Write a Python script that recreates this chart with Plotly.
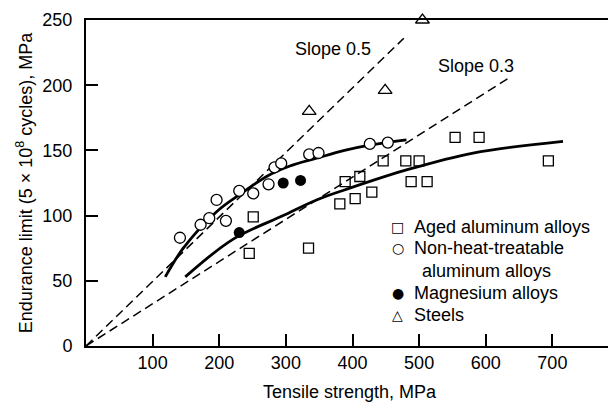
import plotly.graph_objects as go

# data (MPa)
aged_x = [245, 251, 334, 381, 389, 404, 411, 429, 446, 480, 500, 488, 512, 554, 590, 694]
aged_y = [71, 99, 75, 109, 126, 113, 130, 118, 142, 142, 142, 126, 126, 160, 160, 142]

nonheat_x = [141, 172, 185, 196, 210, 230, 251, 274, 283, 293, 335, 349, 426, 453]
nonheat_y = [83, 93, 98, 112, 96, 119, 117, 124, 137, 140, 147, 148, 155, 156]

mg_x = [230, 296, 322]
mg_y = [87, 125, 127]

steel_x = [335, 449, 505]
steel_y = [180, 196, 250]

# fitted trend curves
upper_x = [119, 146, 196, 236, 271, 306, 346, 388, 426, 481]
upper_y = [53, 75, 103, 118, 130, 138, 144, 150, 154, 158]
lower_x = [149, 221, 296, 346, 390, 481, 581, 716]
lower_y = [53, 82, 100, 112, 120, 135, 148, 157]

# slope reference lines (start, end)
slope05_x = [0, 477]
slope05_y = [0, 236]
slope03_x = [0, 636]
slope03_y = [0, 206]

FONT = "Liberation Sans, Arial, Helvetica, sans-serif"

fig = go.Figure()

for xs, ys in [(slope05_x, slope05_y), (slope03_x, slope03_y)]:
    fig.add_trace(go.Scatter(x=xs, y=ys, mode="lines",
                             line=dict(color="black", width=1.5, dash="9px,5px"),
                             showlegend=False, hoverinfo="skip"))

for xs, ys in [(upper_x, upper_y), (lower_x, lower_y)]:
    fig.add_trace(go.Scatter(x=xs, y=ys, mode="lines",
                             line=dict(color="black", width=2.8, shape="spline", smoothing=1.0),
                             showlegend=False, hoverinfo="skip"))

fig.add_trace(go.Scatter(x=aged_x, y=aged_y, mode="markers", name="Aged aluminum alloys",
                         marker=dict(symbol="square-open", size=10, color="black",
                                     line=dict(width=1.3)),
                         showlegend=False, cliponaxis=False))
fig.add_trace(go.Scatter(x=nonheat_x, y=nonheat_y, mode="markers",
                         name="Non-heat-treatable aluminum alloys",
                         marker=dict(symbol="circle", size=11, color="white",
                                     line=dict(width=1.3, color="black")),
                         showlegend=False, cliponaxis=False))
fig.add_trace(go.Scatter(x=mg_x, y=mg_y, mode="markers", name="Magnesium alloys",
                         marker=dict(symbol="circle", size=11, color="black"),
                         showlegend=False, cliponaxis=False))
fig.add_trace(go.Scatter(x=steel_x, y=steel_y, mode="markers", name="Steels",
                         marker=dict(symbol="triangle-up", size=12, color="white",
                                     line=dict(width=1.3, color="black")),
                         showlegend=False, cliponaxis=False))

annotations = [
    dict(x=370, y=228, text="Slope 0.5"),
    dict(x=585, y=215, text="Slope 0.3"),
]
for a in annotations:
    a.update(xref="x", yref="y", showarrow=False, font=dict(family=FONT, size=18, color="black"))

# legend written as text, like the original figure
legend_rows = [
    ("\u25A1", "Aged aluminum alloys", 91.0, 489),
    ("\u25CB", "Non-heat-treatable", 75.2, 489),
    ("", "aluminum alloys", 57.3, 502),
    ("\u25CF", "Magnesium alloys", 40.7, 489),
    ("\u25B3", "Steels", 24.1, 489),
]
for sym, txt, yy, xx in legend_rows:
    if sym:
        annotations.append(dict(x=468, y=yy, text=sym, xref="x", yref="y", showarrow=False,
                                font=dict(family="DejaVu Sans", size=14, color="black")))
    annotations.append(dict(x=xx, y=yy, text=txt, xref="x", yref="y", showarrow=False,
                            xanchor="left", font=dict(family=FONT, size=18, color="black")))

# page body adds an 8px margin, so the figure is 8px smaller each way
fig.update_layout(
    width=608, height=394,
    margin=dict(l=78, r=3, t=12, b=56),
    paper_bgcolor="white", plot_bgcolor="white",
    font=dict(family=FONT, size=18, color="black"),
    showlegend=False,
    annotations=annotations,
)
fig.update_xaxes(range=[0, 791], tickvals=[100, 200, 300, 400, 500, 600, 700],
                 ticks="inside", ticklen=12, tickwidth=1.5, tickcolor="black",
                 showline=True, linewidth=2, linecolor="black", mirror=True,
                 showgrid=False, zeroline=False, ticklabelstandoff=-1, automargin=False,
                 title=dict(text="Tensile strength, MPa", standoff=14,
                            font=dict(family=FONT, size=18)))
fig.update_yaxes(range=[0, 250], tickvals=[0, 50, 100, 150, 200, 250],
                 ticks="inside", ticklen=12, tickwidth=1.5, tickcolor="black",
                 showline=True, linewidth=2, linecolor="black", mirror=True,
                 showgrid=False, zeroline=False, ticklabelstandoff=8, automargin=False,
                 title=dict(text="Endurance limit (5 \u00d7 10<sup>8</sup> cycles), MPa", standoff=5,
                            font=dict(family=FONT, size=18)))

fig.write_html("out.html")
